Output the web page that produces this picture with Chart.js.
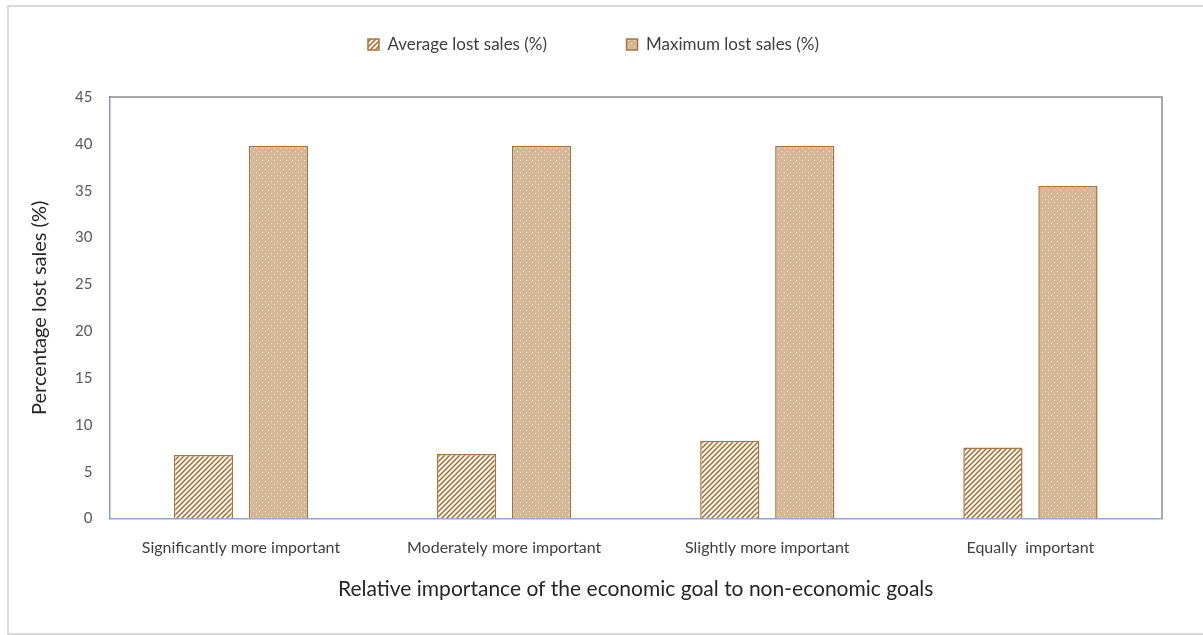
<!DOCTYPE html>
<html>
<head>
<meta charset="utf-8">
<title>Lost sales by relative importance of the economic goal</title>
<script src="https://cdn.jsdelivr.net/npm/chart.js"></script>
<style>
    html, body { margin: 0; padding: 0; background: #ffffff; overflow: hidden; }
    #frame {
        position: absolute; left: 7px; top: 5px; width: 1210px; height: 626px;
        border: 2px solid #d9d9d9;
    }
    #wrap { position: absolute; left: 0; top: 0; width: 1203px; height: 635px; }
</style>
</head>
<body>
<div id="frame"></div>
<div id="wrap"><canvas id="lostSalesChart"></canvas></div>
<script>
// Data
const categories = [
    'Significantly more important',
    'Moderately more important',
    'Slightly more important',
    'Equally  important'
];
const averageLost = [6.8, 6.9, 8.3, 7.6];
const maximumLost = [39.8, 39.8, 39.8, 35.5];
const seriesNames = ['Average lost sales (%)', 'Maximum lost sales (%)'];
const yTicks = [0, 5, 10, 15, 20, 25, 30, 35, 40, 45];

const FONT = 'Lato, "Open Sans", "Liberation Sans", sans-serif';

// Diagonal hatch fill for the average bars
function hatchPattern() {
    const c = document.createElement('canvas');
    c.width = 5; c.height = 5;
    const g = c.getContext('2d');
    g.fillStyle = '#fffaf3';
    g.fillRect(0, 0, 5, 5);
    g.strokeStyle = '#a26b38';
    g.lineWidth = 1.5;
    g.beginPath();
    g.moveTo(0, 5); g.lineTo(5, 0);
    g.moveTo(-1, 1); g.lineTo(1, -1);
    g.moveTo(4, 6); g.lineTo(6, 4);
    g.stroke();
    return g.createPattern(c, 'repeat');
}

// Tan fill with light dots for the maximum bars
function dotPattern() {
    const c = document.createElement('canvas');
    c.width = 6; c.height = 6;
    const g = c.getContext('2d');
    g.fillStyle = '#d4b699';
    g.fillRect(0, 0, 6, 6);
    g.fillStyle = 'rgba(255, 244, 228, 0.75)';
    g.fillRect(1, 1, 1, 1);
    g.fillRect(4, 4, 1, 1);
    return g.createPattern(c, 'repeat');
}

// Gray frame on top and right of the plot area
const plotFrame = {
    id: 'plotFrame',
    beforeDatasetsDraw(chart) {
        const { ctx, chartArea: a } = chart;
        ctx.save();
        ctx.strokeStyle = '#8c8c8c';
        ctx.lineWidth = 1.5;
        ctx.beginPath();
        ctx.moveTo(a.left, a.top);
        ctx.lineTo(a.right, a.top);
        ctx.lineTo(a.right, a.bottom);
        ctx.stroke();
        ctx.restore();
    }
};

// Extra room between legend and plot
const legendGap = {
    id: 'legendGap',
    beforeInit(chart) {
        const fit = chart.legend.fit;
        chart.legend.fit = function () {
            fit.bind(chart.legend)();
            this.height += 34;
        };
    }
};

function initChart() {
    const ctx = document.getElementById('lostSalesChart');
    new Chart(ctx, {
        type: 'bar',
        data: {
            labels: categories,
            datasets: [{
                label: seriesNames[0],
                data: averageLost,
                backgroundColor: hatchPattern(),
                borderColor: '#a8743f',
                borderWidth: 1.5,
                categoryPercentage: 0.57,
                barPercentage: 0.79
            }, {
                label: seriesNames[1],
                data: maximumLost,
                backgroundColor: dotPattern(),
                borderColor: '#a8743f',
                borderWidth: 1.5,
                categoryPercentage: 0.57,
                barPercentage: 0.79
            }]
        },
        options: {
            responsive: true,
            maintainAspectRatio: false,
            animation: false,
            layout: { padding: { top: 16, right: 41, bottom: 17, left: 25 } },
            plugins: {
                legend: {
                    position: 'top',
                    labels: {
                        font: { family: FONT, size: 17 },
                        color: '#404040',
                        boxWidth: 11,
                        boxHeight: 11,
                        padding: 20,
                        generateLabels(chart) {
                            const items = Chart.defaults.plugins.legend.labels.generateLabels(chart);
                            // widen the gap between the two legend entries
                            items[0].text += '\u2003\u2003\u2003\u2003\u2002';
                            return items;
                        }
                    }
                },
                tooltip: { enabled: true }
            },
            scales: {
                x: {
                    grid: { display: false, drawTicks: false },
                    border: { display: true, color: '#8eaad0', width: 1.5 },
                    ticks: {
                        font: { family: FONT, size: 16 },
                        color: '#404040',
                        padding: 20,
                        maxRotation: 0
                    },
                    title: {
                        display: true,
                        text: 'Relative importance of the economic goal to non-economic goals',
                        font: { family: FONT, size: 21 },
                        color: '#262626',
                        padding: { top: -1, bottom: 16 }
                    }
                },
                y: {
                    min: 0,
                    max: 45,
                    grid: { display: false, drawTicks: false },
                    border: { display: true, color: '#8a9ab3', width: 1.5 },
                    afterBuildTicks(scale) {
                        scale.ticks = yTicks.map(v => ({ value: v }));
                    },
                    ticks: {
                        font: { family: FONT, size: 15 },
                        color: '#595959',
                        padding: 17
                    },
                    title: {
                        display: true,
                        text: 'Percentage lost sales (%)',
                        font: { family: FONT, size: 20 },
                        color: '#262626',
                        padding: { top: 3, bottom: 6 }
                    }
                }
            }
        },
        plugins: [plotFrame, legendGap]
    });
}

document.addEventListener('DOMContentLoaded', initChart);
</script>
</body>
</html>
